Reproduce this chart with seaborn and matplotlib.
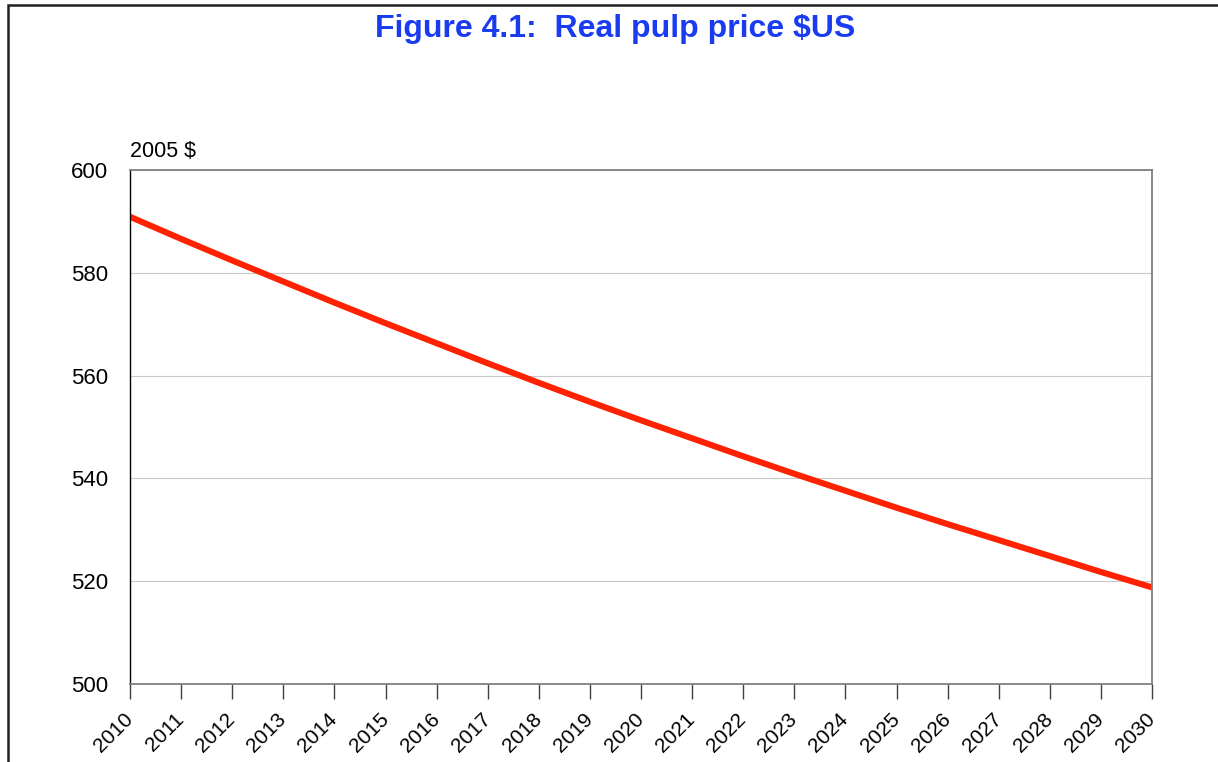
import pandas as pd
import seaborn as sns
import matplotlib.pyplot as plt
from matplotlib.patches import Rectangle

# datos
years = list(range(2010, 2031))
price = [590.9, 586.6, 582.4, 578.3, 574.2, 570.2, 566.3, 562.4, 558.6, 554.9,
         551.3, 547.8, 544.3, 540.9, 537.6, 534.3, 531.1, 528.0, 524.9, 521.8, 518.8]
y_ticks = [500, 520, 540, 560, 580, 600]

df = pd.DataFrame({'Year': years, 'Price': price})

sns.set_style("white")
plt.rcParams['font.family'] = ['Liberation Sans', 'DejaVu Sans']

fig = plt.figure(figsize=(12.18, 7.62), dpi=100)
ax = fig.add_axes([130 / 1218, 1 - 684 / 762, 1022 / 1218, 514 / 762])

sns.lineplot(data=df, x='Year', y='Price', color='#ff2200', linewidth=4.4, ax=ax)

ax.set_xlim(2010, 2030)
ax.set_ylim(500, 600)
ax.set_xticks(years)
ax.set_xticklabels([str(y) for y in years], rotation=45, ha='right', va='center',
                   rotation_mode='anchor', fontsize=15, color='black')
ax.set_yticks(y_ticks)
ax.set_yticklabels([str(v) for v in y_ticks], fontsize=16, color='black')
ax.tick_params(axis='y', left=False, length=0, pad=16)
ax.tick_params(axis='x', bottom=True, length=11, width=1, color='#404040',
               pad=12, direction='out')
ax.yaxis.grid(True, color='#c8c8c8', linewidth=0.8)
ax.set_axisbelow(True)
ax.set_xlabel('')
ax.set_ylabel('')

for lado in ['top', 'right', 'bottom']:
    ax.spines[lado].set_color('#808080')
    ax.spines[lado].set_linewidth(1.3)
ax.spines['left'].set_color('black')
ax.spines['left'].set_linewidth(1.0)

ax.text(0, 1.015, '2005 $', transform=ax.transAxes, fontsize=15.5,
        ha='left', va='bottom', color='black')

fig.text(615 / 1218, 1 - 29 / 762, 'Figure 4.1:  Real pulp price $US',
         color='#1a3cf0', fontsize=23, fontweight='bold', ha='center', va='center')

# marco exterior (cortado por la derecha y abajo)
fig.add_artist(Rectangle((8 / 1218, -0.1), 1.2, 1.1 - 5 / 762, fill=False,
                         edgecolor='#202020', linewidth=1.8,
                         transform=fig.transFigure, clip_on=False))

plt.savefig('out.png', dpi=100)
plt.close()
